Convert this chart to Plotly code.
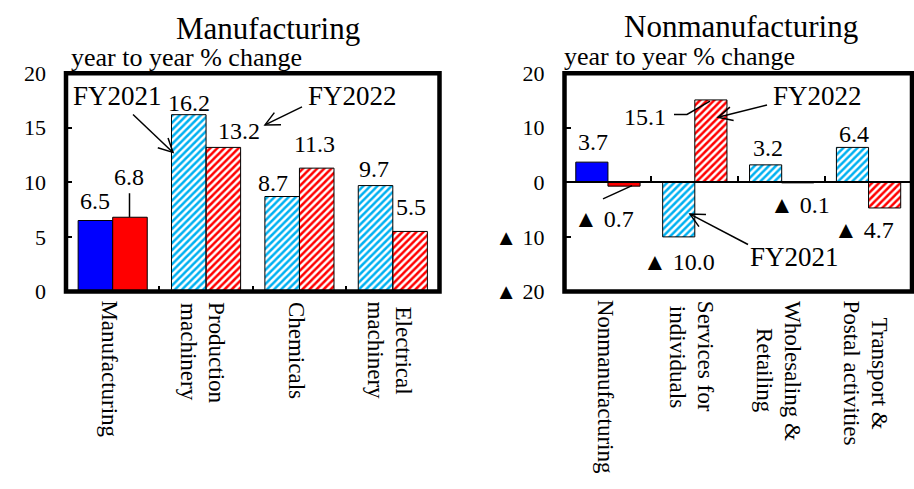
import math
import plotly.graph_objects as go

# ---- data -------------------------------------------------------------
mfg_categories = ["Manufacturing", "Production<br>machinery", "Chemicals", "Electrical<br>machinery"]
mfg_fy2021 = [6.5, 16.2, 8.7, 9.7]
mfg_fy2022 = [6.8, 13.2, 11.3, 5.5]

non_categories = ["Nonmanufacturing", "Services for<br>individuals",
                  "Wholesaling &<br>Retailing", "Transport &<br>Postal activities"]
non_fy2021 = [3.7, -10.0, 3.2, 6.4]
non_fy2022 = [-0.7, 15.1, -0.1, -4.7]

mfg_yticks = [0, 5, 10, 15, 20]
non_yticks = [-20, -10, 0, 10, 20]

# ---- styling -----------------------------------------------------------
W, H = 914, 489
FONT = "Liberation Serif"
BLUE = "#0000ff"
RED = "#ff0000"
SKY = "#00b0f0"
HALF = 0.185  # half of one bar's width in category units

# Times-compatible advance widths (1/1000 em), used to centre stacked labels
ADV = {" ": 250, "&": 778, "C": 667, "E": 611, "M": 889, "N": 722, "P": 556,
       "R": 667, "S": 556, "T": 611, "W": 944, "a": 444, "b": 500, "c": 444,
       "d": 500, "e": 444, "f": 333, "g": 500, "h": 500, "i": 278, "l": 278,
       "m": 778, "n": 500, "o": 500, "p": 500, "r": 333, "s": 389, "t": 278,
       "u": 500, "v": 500, "y": 500}


def text_len(s, size):
    return sum(ADV.get(ch, 500) for ch in s) * size / 1000


def px(x):
    return x / W


def py(y):
    return 1 - y / H


def fmt(v):
    return f"▲ {abs(v):.1f}" if v < 0 else f"{v:.1f}"


def bars(vals, solid, stripe, xa, ya):
    n = len(vals)
    return go.Bar(
        x=list(range(n)), y=vals, xaxis=xa, yaxis=ya,
        showlegend=False, hoverinfo="skip",
        marker=dict(
            color=[solid] + [stripe] * (n - 1),
            line=dict(color="black", width=1),
            pattern=dict(shape=[""] + ["/"] * (n - 1), fillmode="replace",
                         bgcolor="white", size=5, solidity=0.5),
        ),
    )


fig = go.Figure([
    bars(mfg_fy2021, BLUE, SKY, "x", "y"),
    bars(mfg_fy2022, RED, RED, "x", "y"),
    bars(non_fy2021, BLUE, SKY, "x2", "y2"),
    bars(non_fy2022, RED, RED, "x2", "y2"),
])

ydom = [py(294.5), py(64.5)]
zero_pos = (ydom[0] + ydom[1]) / 2

common_x = dict(range=[-0.5, 3.5], tickvals=[0.5, 1.5, 2.5], ticks="inside",
                ticklen=5, tickwidth=1.5, tickcolor="black", showticklabels=False,
                showgrid=False, zeroline=False, fixedrange=True)
common_y = dict(ticks="inside", ticklen=6, tickwidth=1.5, tickcolor="black",
                ticklabelstandoff=19, showgrid=False, zeroline=False,
                tickfont=dict(family=FONT, size=22, color="black"), domain=ydom)

fig.update_layout(
    width=W, height=H, margin=dict(l=0, r=0, t=0, b=0),
    paper_bgcolor="white", plot_bgcolor="white",
    barmode="group", bargap=0.26, bargroupgap=0,
    font=dict(family=FONT, color="black"),
    xaxis=dict(domain=[px(66), px(439.5)], anchor="y", **common_x),
    yaxis=dict(range=[0, 20], tickvals=mfg_yticks, anchor="x", **common_y),
    xaxis2=dict(domain=[px(564.5), px(912)], anchor="free", position=zero_pos,
                showline=True, linewidth=2, linecolor="black", **common_x),
    yaxis2=dict(range=[-20, 20], tickvals=non_yticks,
                ticktext=[("▲ " + str(abs(t))) if t < 0 else str(t) for t in non_yticks],
                anchor="x2", **common_y),
)

shapes = []
# thick frames around both plot areas
for xr, yr in (("x domain", "y domain"), ("x2 domain", "y2 domain")):
    shapes.append(dict(type="rect", xref=xr, yref=yr, x0=0, x1=1, y0=0, y1=1,
                       line=dict(color="black", width=4.5), layer="above"))


def poly(points, width=1.5):
    d = "M" + " L".join(f"{px(a)},{py(b)}" for a, b in points)
    shapes.append(dict(type="path", xref="paper", yref="paper", path=d,
                       line=dict(color="black", width=width)))


def arrow(tail, head, arm=16, spread=27):
    poly([tail, head])
    ang = math.atan2(tail[1] - head[1], tail[0] - head[0])
    ends = [(head[0] + arm * math.cos(ang + s * math.radians(spread)),
             head[1] + arm * math.sin(ang + s * math.radians(spread))) for s in (-1, 1)]
    poly([ends[0], head, ends[1]])


# leader lines from value labels to their bars
poly([(129.5, 191), (129.5, 216)])
poly([(603, 197), (632, 183)])
poly([(674, 108), (687, 108), (710, 94)])

# series call-outs
arrow((133, 108), (173, 148))
arrow((302, 100), (265, 119))
arrow((767, 98), (718, 111))
arrow((748, 245), (690, 213))

fig.update_layout(shapes=shapes)

ann = []


def text(x, y, s, size, xanchor="center"):
    ann.append(dict(x=px(x), y=py(y), xref="paper", yref="paper", text=s,
                    showarrow=False, font=dict(family=FONT, size=size, color="black"),
                    xanchor=xanchor, yanchor="middle"))


text(268, 17, "Manufacturing", 31)
text(741, 15, "Nonmanufacturing", 31)
text(69, 48, "year to year % change", 26, "left")
text(562, 47, "year to year % change", 26, "left")
text(117, 89, "FY2021", 27)
text(352, 89, "FY2022", 27)
text(817, 89, "FY2022", 27)
text(794, 258, "FY2021", 27)

# value labels: pixel nudges per bar (dx, dy)
mfg_21_off = [(0, 20), (0, 12), (-9, 14), (-2, 17)]
mfg_22_off = [(-1, 40), (16, 16), (-2, 24), (1, 24)]
non_21_off = [(1, 20), (0, -25), (2, 17), (1.5, 13)]
non_22_off = [(-20, -33), (-66, -17), (2, -22), (-21, -22)]

for xa, ya, vals, offs, side in (
    ("x", "y", mfg_fy2021, mfg_21_off, -1), ("x", "y", mfg_fy2022, mfg_22_off, 1),
    ("x2", "y2", non_fy2021, non_21_off, -1), ("x2", "y2", non_fy2022, non_22_off, 1),
):
    for i, (v, (dx, dy)) in enumerate(zip(vals, offs)):
        ann.append(dict(x=i + side * HALF, y=v, xref=xa, yref=ya, text=fmt(v),
                        showarrow=False, xshift=dx, yshift=dy,
                        xanchor="center", yanchor="middle",
                        font=dict(family=FONT, size=24, color="black")))

# rotated category labels: each line is its own column, all centred on the
# middle of the longest line so stacked labels read centred
LABEL_SIZE = 23
LABEL_TOP = 308
LINE_STEP = 28
for xa, cats in (("x", mfg_categories), ("x2", non_categories)):
    for i, c in enumerate(cats):
        lines = c.split("<br>")
        longest = max(text_len(s, LABEL_SIZE) for s in lines)
        mid = LABEL_TOP + longest / 2
        n = len(lines)
        for k, s in enumerate(lines):
            ann.append(dict(x=i, y=py(mid), xref=xa, yref="paper", text=s, textangle=90,
                            showarrow=False, xanchor="center", yanchor="middle",
                            xshift=-3 + LINE_STEP * ((n - 1) / 2 - k),
                            font=dict(family=FONT, size=LABEL_SIZE, color="black")))

fig.update_layout(annotations=ann)
fig.write_html("out.html")
